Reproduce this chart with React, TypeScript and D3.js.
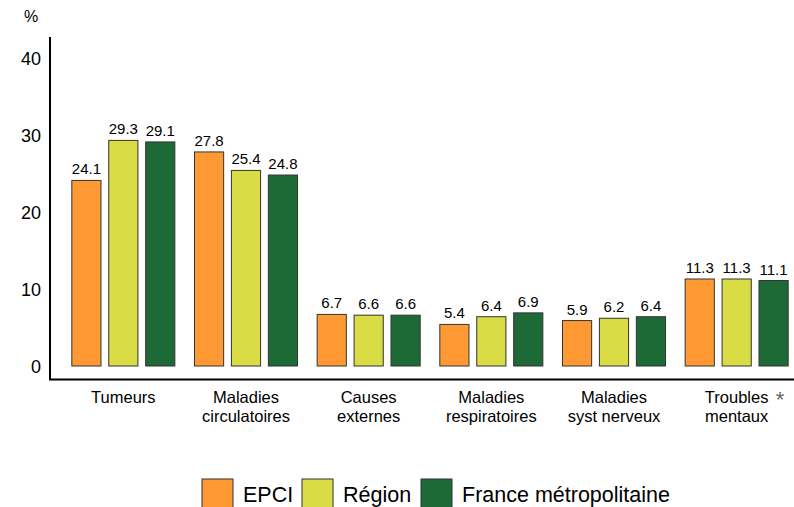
import React from 'react';
import * as d3 from 'd3';

const categories = [
    ['Tumeurs'],
    ['Maladies', 'circulatoires'],
    ['Causes', 'externes'],
    ['Maladies', 'respiratoires'],
    ['Maladies', 'syst nerveux'],
    ['Troubles', 'mentaux'],
];
const starred = [false, false, false, false, false, true];
const seriesNames = ['EPCI', 'Région', 'France métropolitaine'];
const epci = [24.1, 27.8, 6.7, 5.4, 5.9, 11.3];
const region = [29.3, 25.4, 6.6, 6.4, 6.2, 11.3];
const france = [29.1, 24.8, 6.6, 6.9, 6.4, 11.1];
const yTicks = [0, 10, 20, 30, 40];

const colors = ['#FF9933', '#D9DC44', '#1D6A37'];
const FONT = "Arial, 'Liberation Sans', sans-serif";

const App: React.FC = () => {
    const width = 794;
    const height = 507;
    const series = [epci, region, france];
    const catKeys = categories.map(c => c.join(' '));

    const y = d3.scaleLinear().domain([0, 40]).range([366, 58]);
    const x0 = d3.scaleBand<string>()
        .domain(catKeys)
        .range([62, 798])
        .paddingInner(0.16)
        .paddingOuter(0.08);
    const x1 = d3.scaleBand<string>()
        .domain(seriesNames)
        .range([0, x0.bandwidth()])
        .paddingInner(0.21);

    const fmt = d3.format('.1f');
    const legendX = [202, 302, 421];

    return (
        <svg width={width} height={height}
            style={{ position: 'absolute', left: 0, top: 0, fontFamily: FONT }}>
            <text x={31} y={22} fontSize={16} textAnchor="middle">%</text>

            {yTicks.map(t => (
                <text key={t} x={41} y={y(t) + 6.5} fontSize={18} textAnchor="end">{t}</text>
            ))}

            <line x1={50} x2={50} y1={37} y2={380} stroke="#000" strokeWidth={2} />
            <line x1={49} x2={794} y1={379.5} y2={379.5} stroke="#000" strokeWidth={2} />

            {catKeys.map((key, ci) => (
                <g key={key} transform={`translate(${x0(key)},0)`}>
                    {series.map((vals, si) => {
                        const bx = x1(seriesNames[si]) as number;
                        const v = vals[ci];
                        return (
                            <g key={si}>
                                <rect x={bx} y={y(v)} width={x1.bandwidth()} height={y(0) - y(v)}
                                    fill={colors[si]} stroke="#333" strokeWidth={1} />
                                <text x={bx + x1.bandwidth() / 2} y={y(v) - 6} fontSize={15}
                                    textAnchor="middle">{fmt(v)}</text>
                            </g>
                        );
                    })}
                    {categories[ci].map((line, li) => (
                        <text key={li} x={x0.bandwidth() / 2} y={402.5 + li * 19} fontSize={16.5}
                            textAnchor="middle">{line}</text>
                    ))}
                    {starred[ci] && (
                        <text x={x0.bandwidth() / 2 + 39} y={407} fontSize={22} fill="#666"
                            textAnchor="start">*</text>
                    )}
                </g>
            ))}

            {seriesNames.map((name, si) => (
                <g key={name}>
                    <rect x={legendX[si]} y={479} width={31} height={31}
                        fill={colors[si]} stroke="#333" strokeWidth={1} />
                    <text x={legendX[si] + 41} y={501.5} fontSize={21.5}>{name}</text>
                </g>
            ))}
        </svg>
    );
};

export default App;
